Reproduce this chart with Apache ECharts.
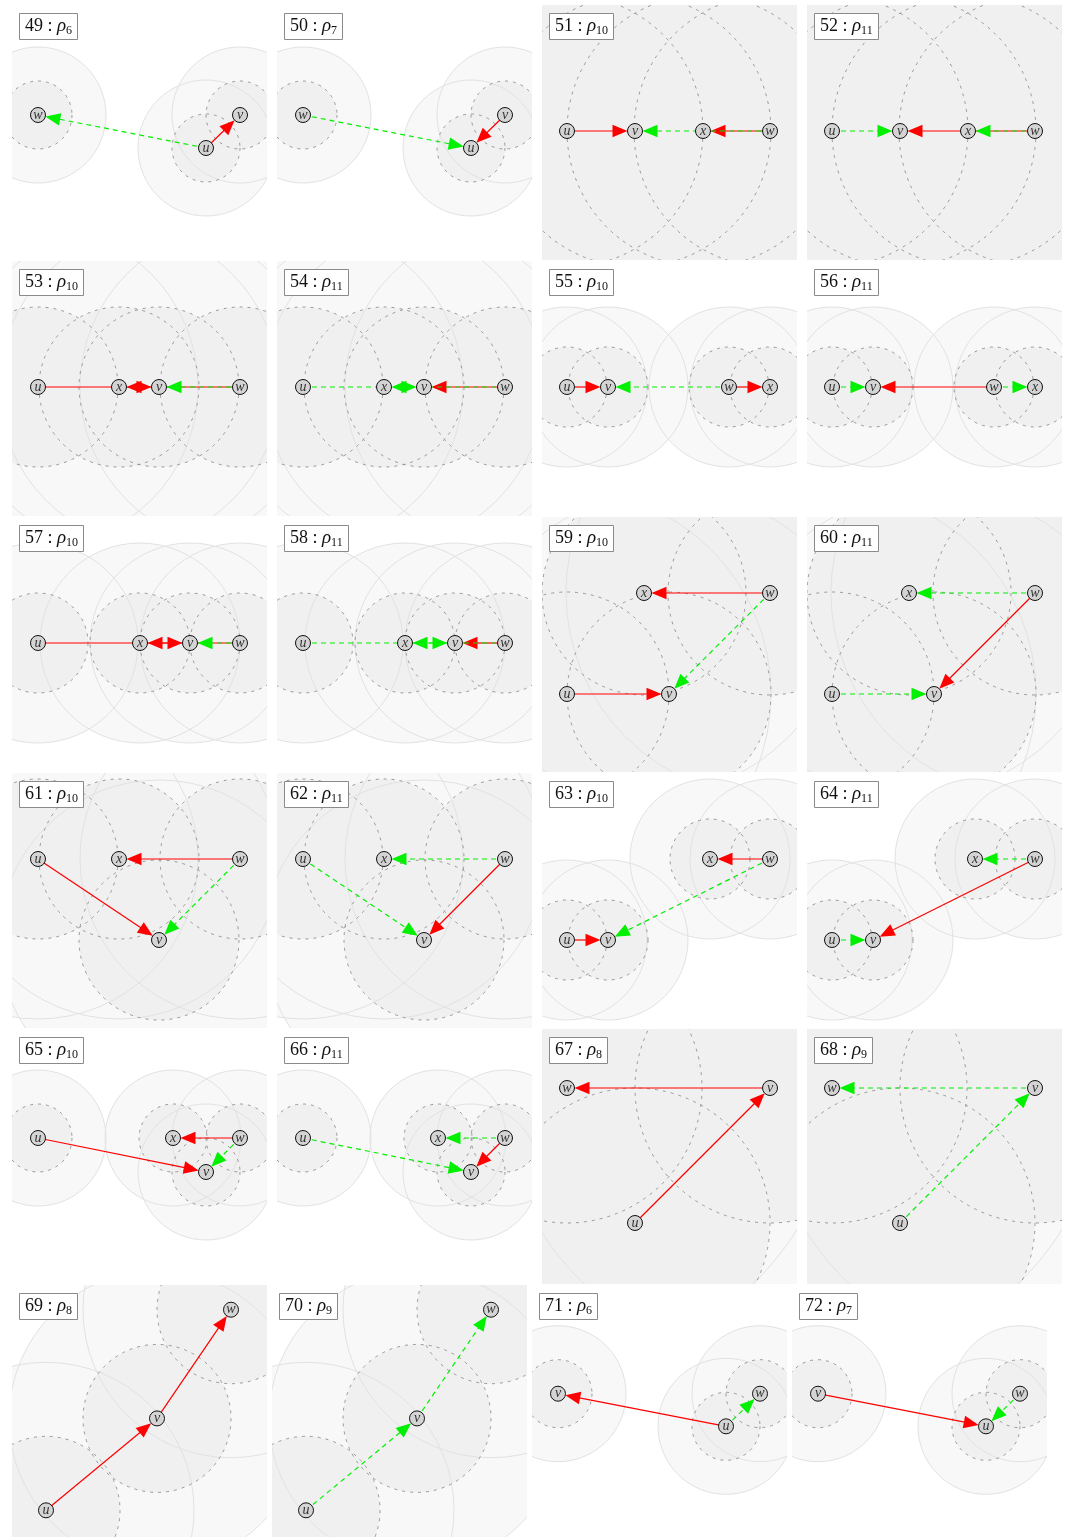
<!DOCTYPE html>
<html>
<head>
<meta charset="utf-8">
<script src="https://cdn.jsdelivr.net/npm/echarts@6/dist/echarts.min.js"></script>
<style>
  html, body { margin: 0; padding: 0; background: #fff; }
  #chart { width: 1067px; height: 1537px; }
</style>
</head>
<body>
<div id="chart"></div>
<script>
// ---- configurations 49..72 ----
const panelIds = [49, 50, 51, 52, 53, 54, 55, 56, 57, 58, 59, 60,
                  61, 62, 63, 64, 65, 66, 67, 68, 69, 70, 71, 72];
const panelRho = [6, 7, 10, 11, 10, 11, 10, 11, 10, 11, 10, 11,
                  10, 11, 10, 11, 10, 11, 8, 9, 8, 9, 6, 7];
// radius of the dashed disc around every node (outer disc is twice as large)
const innerRadius = [34, 34, 136, 136, 80, 80, 40, 40, 50, 50, 102, 102,
                     80, 80, 40, 40, 34, 34, 135, 135, 74, 74, 34, 34];

// node placements, [name, x, y] in panel units (0..255, y downwards)
const nodesRowA      = [['w', 26, 110], ['u', 194, 143], ['v', 228, 110]];
const nodesLineWide  = [['u', 25, 126], ['v', 93, 126], ['x', 161, 126], ['w', 228, 126]];
const nodesLineMid   = [['u', 26, 126], ['x', 107, 126], ['v', 147, 126], ['w', 228, 126]];
const nodesTwoPairs  = [['u', 25, 126], ['v', 66, 126], ['w', 187, 126], ['x', 228, 126]];
const nodesLineTight = [['u', 26, 126], ['x', 128, 126], ['v', 178, 126], ['w', 228, 126]];
const nodesSquare    = [['x', 102, 76], ['w', 228, 76], ['u', 25, 177], ['v', 127, 177]];
const nodesTriangle  = [['u', 26, 86], ['x', 107, 86], ['w', 228, 86], ['v', 147, 167]];
const nodesSplit     = [['u', 25, 167], ['v', 66, 167], ['x', 168, 86], ['w', 228, 86]];
const nodesCluster   = [['u', 26, 109], ['x', 161, 109], ['w', 228, 109], ['v', 194, 143]];
const nodesCorner    = [['w', 25, 59], ['v', 228, 59], ['u', 93, 194]];
const nodesChain     = [['u', 34, 228], ['v', 145, 135], ['w', 219, 25]];
const nodesRowB      = [['v', 26, 110], ['u', 194, 143], ['w', 228, 110]];

const panelNodes = [
  nodesRowA, nodesRowA, nodesLineWide, nodesLineWide, nodesLineMid, nodesLineMid,
  nodesTwoPairs, nodesTwoPairs, nodesLineTight, nodesLineTight, nodesSquare, nodesSquare,
  nodesTriangle, nodesTriangle, nodesSplit, nodesSplit, nodesCluster, nodesCluster,
  nodesCorner, nodesCorner, nodesChain, nodesChain, nodesRowB, nodesRowB
];

// directed edges: [from, to, kind]  kind 'r' = solid red, 'g' = dashed green
const panelEdges = [
  [['u', 'v', 'r'], ['u', 'w', 'g']],
  [['v', 'u', 'r'], ['w', 'u', 'g']],
  [['u', 'v', 'r'], ['w', 'x', 'r'], ['w', 'v', 'g']],
  [['u', 'v', 'g'], ['w', 'x', 'g'], ['w', 'v', 'r']],
  [['u', 'v', 'r'], ['w', 'x', 'r'], ['w', 'v', 'g']],
  [['u', 'v', 'g'], ['w', 'x', 'g'], ['w', 'v', 'r']],
  [['u', 'v', 'r'], ['w', 'x', 'r'], ['w', 'v', 'g']],
  [['u', 'v', 'g'], ['w', 'x', 'g'], ['w', 'v', 'r']],
  [['u', 'v', 'r'], ['w', 'x', 'r'], ['w', 'v', 'g']],
  [['u', 'v', 'g'], ['w', 'x', 'g'], ['w', 'v', 'r']],
  [['u', 'v', 'r'], ['w', 'x', 'r'], ['w', 'v', 'g']],
  [['u', 'v', 'g'], ['w', 'x', 'g'], ['w', 'v', 'r']],
  [['u', 'v', 'r'], ['w', 'x', 'r'], ['w', 'v', 'g']],
  [['u', 'v', 'g'], ['w', 'x', 'g'], ['w', 'v', 'r']],
  [['u', 'v', 'r'], ['w', 'x', 'r'], ['w', 'v', 'g']],
  [['u', 'v', 'g'], ['w', 'x', 'g'], ['w', 'v', 'r']],
  [['u', 'v', 'r'], ['w', 'x', 'r'], ['w', 'v', 'g']],
  [['u', 'v', 'g'], ['w', 'x', 'g'], ['w', 'v', 'r']],
  [['v', 'w', 'r'], ['u', 'v', 'r']],
  [['v', 'w', 'g'], ['u', 'v', 'g']],
  [['u', 'v', 'r'], ['v', 'w', 'r']],
  [['u', 'v', 'g'], ['v', 'w', 'g']],
  [['u', 'v', 'r'], ['u', 'w', 'g']],
  [['v', 'u', 'r'], ['w', 'u', 'g']]
];

// ---- layout ----
const PANEL = 255;
const colLeft = [12, 277, 542, 807];
const lastRowLeft = [12, 272, 532, 792];
const rowTop = [5, 261, 517, 773, 1029, 1285];

const NODE_R = 7.5;      // node marker radius, px
const HEAD_L = 15;       // arrow head length, px
const HEAD_W = 6.3;      // arrow head half width, px
const RED = '#ff0000';
const GREEN = '#00f000';
const SERIF = '"Liberation Serif", "DejaVu Serif", serif';

const chart = echarts.init(document.getElementById('chart'), null, { renderer: 'canvas' });

const grids = [], xAxes = [], yAxes = [], series = [], titles = [];

function discLayer(i, data, z, styleFn) {
  return {
    type: 'custom', xAxisIndex: i, yAxisIndex: i, clip: true, silent: true, z: z,
    data: data,
    encode: { x: 0, y: 1 },
    renderItem: function (params, api) {
      const c = api.coord([api.value(0), api.value(1)]);
      const r = api.size([api.value(2), 0])[0];
      return { type: 'circle', shape: { cx: c[0], cy: c[1], r: r }, style: styleFn() };
    }
  };
}

function edgeLayer(i, data, color, dashed, z) {
  return {
    type: 'custom', xAxisIndex: i, yAxisIndex: i, clip: true, silent: true, z: z,
    data: data,
    encode: { x: [0, 2], y: [1, 3] },
    renderItem: function (params, api) {
      const p1 = api.coord([api.value(0), api.value(1)]);
      const p2 = api.coord([api.value(2), api.value(3)]);
      const dx = p2[0] - p1[0], dy = p2[1] - p1[1];
      const len = Math.hypot(dx, dy);
      const ux = dx / len, uy = dy / len;
      const tip = [p2[0] - ux * NODE_R, p2[1] - uy * NODE_R];
      const base = [tip[0] - ux * HEAD_L, tip[1] - uy * HEAD_L];
      const left = [base[0] - uy * HEAD_W, base[1] + ux * HEAD_W];
      const right = [base[0] + uy * HEAD_W, base[1] - ux * HEAD_W];
      return {
        type: 'group',
        children: [
          {
            type: 'line',
            shape: { x1: p1[0], y1: p1[1], x2: base[0] + ux * 2, y2: base[1] + uy * 2 },
            style: { stroke: color, lineWidth: 1.2, lineDash: dashed ? [5, 4] : null, fill: null }
          },
          { type: 'polygon', shape: { points: [tip, left, right] }, style: { fill: color } }
        ]
      };
    }
  };
}

panelIds.forEach(function (id, i) {
  const row = Math.floor(i / 4), col = i % 4;
  const left = (row === 5 ? lastRowLeft : colLeft)[col];
  const top = rowTop[row];
  grids.push({ left: left, top: top, width: PANEL, height: PANEL, containLabel: false });
  xAxes.push({ gridIndex: i, type: 'value', min: 0, max: PANEL, show: false });
  yAxes.push({ gridIndex: i, type: 'value', min: 0, max: PANEL, inverse: true, show: false });

  const nodes = panelNodes[i];
  const r = innerRadius[i];
  const inner = nodes.map(n => [n[1], n[2], r]);
  const outer = nodes.map(n => [n[1], n[2], 2 * r]);

  series.push(discLayer(i, outer, 1, () => ({ fill: '#f8f8f8', stroke: null })));
  series.push(discLayer(i, inner, 2, () => ({ fill: '#f0f0f0', stroke: null })));
  series.push(discLayer(i, outer, 3, () => ({ fill: null, stroke: '#e2e2e2', lineWidth: 1 })));
  series.push(discLayer(i, inner, 4, () => ({ fill: null, stroke: '#8e8e8e', lineWidth: 0.9, lineDash: [3, 5] })));

  const pos = {};
  nodes.forEach(n => { pos[n[0]] = [n[1], n[2]]; });
  const reds = [], greens = [];
  panelEdges[i].forEach(e => {
    const a = pos[e[0]], b = pos[e[1]];
    (e[2] === 'r' ? reds : greens).push([a[0], a[1], b[0], b[1]]);
  });
  series.push(edgeLayer(i, reds, RED, false, 5));
  series.push(edgeLayer(i, greens, GREEN, true, 6));

  series.push({
    type: 'scatter', xAxisIndex: i, yAxisIndex: i, z: 7, silent: true,
    symbol: 'circle', symbolSize: 2 * NODE_R,
    itemStyle: { color: '#d4d4d4', borderColor: '#111', borderWidth: 1, opacity: 1 },
    label: {
      show: true, position: 'inside', formatter: '{b}',
      fontFamily: SERIF, fontStyle: 'italic', fontSize: 14, color: '#333'
    },
    data: nodes.map(n => ({ name: n[0], value: [n[1], n[2]] }))
  });

  titles.push({
    text: '{n|' + id + ' : }{r|ρ}{s|' + panelRho[i] + '}',
    left: left + 7, top: top + 7, z: 20,
    backgroundColor: '#ffffff', borderColor: '#8a8a8a', borderWidth: 1,
    padding: [3, 6, 3, 6],
    textStyle: {
      fontWeight: 'normal',
      rich: {
        n: { fontFamily: SERIF, fontSize: 18, fontWeight: 'normal', color: '#111', lineHeight: 22 },
        r: { fontFamily: SERIF, fontSize: 19, fontWeight: 'normal', fontStyle: 'italic', color: '#111', lineHeight: 22 },
        s: { fontFamily: SERIF, fontSize: 12, fontWeight: 'normal', color: '#111', verticalAlign: 'bottom', lineHeight: 9 }
      }
    }
  });
});

chart.setOption({
  animation: false,
  backgroundColor: '#ffffff',
  title: titles,
  grid: grids,
  xAxis: xAxes,
  yAxis: yAxes,
  series: series
});
</script>
</body>
</html>
